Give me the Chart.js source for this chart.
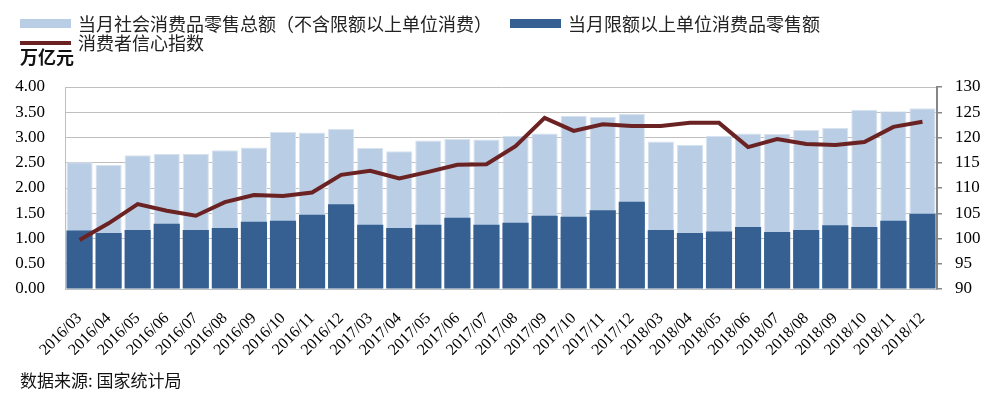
<!DOCTYPE html>
<html>
  <head>
    <meta charset="utf-8" />
    <title>社会消费品零售额与消费者信心指数</title>
    <script src="https://cdn.jsdelivr.net/npm/chart.js"></script>
    <style>
      body { margin: 0; background: #fff; }
      #wrap { position: relative; width: 1006px; height: 398px; }
      #retail-chart { position: absolute; left: 0; top: 0; }
      #legend {
        position: absolute; left: 20px; top: 14px; width: 830px;
        display: flex; flex-wrap: wrap; column-gap: 18px;
        font: 18px "Noto Sans CJK SC", sans-serif; color: #222; line-height: 19px;
      }
      .item { display: flex; align-items: center; white-space: nowrap; }
      .swatch { width: 51px; margin-right: 7px; }
      #unit {
        position: absolute; left: 20px; top: 46px;
        font: bold 18px "Noto Sans CJK SC", sans-serif; color: #111; line-height: 20px;
      }
      #source {
        position: absolute; left: 20px; top: 370px;
        font: 17px "Noto Sans CJK SC", sans-serif; color: #111; line-height: 20px;
      }
    </style>
  </head>
  <body>
    <div id="wrap">
      <canvas id="retail-chart" width="1006" height="398"></canvas>
      <div id="legend"></div>
      <div id="unit">万亿元</div>
      <div id="source">数据来源: 国家统计局</div>
    </div>

    <script>
      const months = [
        "2016/03", "2016/04", "2016/05", "2016/06", "2016/07", "2016/08", "2016/09", "2016/10", "2016/11", "2016/12",
        "2017/03", "2017/04", "2017/05", "2017/06", "2017/07", "2017/08", "2017/09", "2017/10", "2017/11", "2017/12",
        "2018/03", "2018/04", "2018/05", "2018/06", "2018/07", "2018/08", "2018/09", "2018/10", "2018/11", "2018/12",
      ];

      // 万亿元
      const totalRetail = [
        2.51, 2.46, 2.65, 2.68, 2.68, 2.75, 2.80, 3.11, 3.10, 3.17,
        2.79, 2.73, 2.94, 2.97, 2.96, 3.03, 3.08, 3.43, 3.41, 3.47,
        2.92, 2.85, 3.03, 3.08, 3.07, 3.15, 3.19, 3.55, 3.52, 3.58,
      ];
      const aboveLimitRetail = [
        1.16, 1.11, 1.17, 1.29, 1.17, 1.21, 1.33, 1.35, 1.47, 1.68,
        1.27, 1.21, 1.27, 1.41, 1.27, 1.31, 1.45, 1.43, 1.56, 1.73,
        1.17, 1.11, 1.14, 1.23, 1.13, 1.17, 1.26, 1.23, 1.35, 1.49,
      ];
      const confidenceIndex = [
        99.7, 103.0, 106.8, 105.5, 104.5, 107.2, 108.6, 108.4, 109.1, 112.6,
        113.4, 111.9, 113.2, 114.6, 114.7, 118.3, 123.9, 121.3, 122.6, 122.3,
        122.3, 122.9, 122.9, 118.1, 119.7, 118.7, 118.5, 119.1, 122.1, 123.1,
      ];

      const leftTicks = [0, 0.5, 1, 1.5, 2, 2.5, 3, 3.5, 4];
      const rightTicks = [90, 95, 100, 105, 110, 115, 120, 125, 130];

      const serif = "'Liberation Serif', 'Times New Roman', serif";
      const gridGray = "#bfbfbf";

      const ctx = document.getElementById("retail-chart").getContext("2d");
      const chart = new Chart(ctx, {
        type: "bar",
        data: {
          labels: months,
          datasets: [
            {
              label: "当月社会消费品零售总额（不含限额以上单位消费）",
              data: totalRetail,
              backgroundColor: "#b9cde5",
              borderColor: "#d7e2ef",
              borderWidth: 1,
              grouped: false,
              barPercentage: 0.9,
              categoryPercentage: 1,
              yAxisID: "y",
              order: 3,
            },
            {
              label: "当月限额以上单位消费品零售额",
              data: aboveLimitRetail,
              backgroundColor: "#376092",
              grouped: false,
              barPercentage: 0.9,
              categoryPercentage: 1,
              yAxisID: "y",
              order: 2,
            },
            {
              type: "line",
              label: "消费者信心指数",
              data: confidenceIndex,
              borderColor: "#6b2222",
              backgroundColor: "#6b2222",
              borderWidth: 4,
              pointRadius: 0,
              tension: 0,
              yAxisID: "y1",
              order: 1,
            },
          ],
        },
        options: {
          responsive: false,
          animation: false,
          layout: { padding: { top: 87 } },
          plugins: {
            legend: { display: false },
            tooltip: { enabled: false },
          },
          scales: {
            x: {
              grid: { display: false },
              border: { color: gridGray },
              ticks: {
                autoSkip: false,
                minRotation: 45,
                maxRotation: 45,
                padding: 12,
                color: "#000",
                font: { family: serif, size: 16 },
              },
              afterFit: (axis) => { axis.height = 109; },
            },
            y: {
              position: "left",
              min: 0,
              max: 4,
              afterBuildTicks: (axis) => { axis.ticks = leftTicks.map((v) => ({ value: v })); },
              grid: { color: gridGray, drawTicks: false },
              border: { color: gridGray },
              ticks: {
                padding: 20,
                color: "#000",
                font: { family: serif, size: 17 },
                callback: (v) => v.toFixed(2),
              },
              afterFit: (axis) => { axis.width = 65; },
            },
            y1: {
              position: "right",
              min: 90,
              max: 130,
              afterBuildTicks: (axis) => { axis.ticks = rightTicks.map((v) => ({ value: v })); },
              grid: { drawOnChartArea: false, color: "#868686", tickLength: 5, lineWidth: 1.5 },
              border: { color: "#868686", width: 2 },
              ticks: {
                padding: 13,
                color: "#000",
                font: { family: serif, size: 17 },
              },
              afterFit: (axis) => { axis.width = 69; },
            },
          },
        },
      });

      // legend built from the chart's own datasets
      const legend = document.getElementById("legend");
      chart.data.datasets.forEach((ds) => {
        const item = document.createElement("div");
        item.className = "item";
        const sw = document.createElement("span");
        sw.className = "swatch";
        if (ds.type === "line") {
          sw.style.height = "4px";
          sw.style.background = ds.borderColor;
        } else {
          sw.style.height = "9px";
          sw.style.background = ds.backgroundColor;
        }
        const txt = document.createElement("span");
        txt.textContent = ds.label;
        item.appendChild(sw);
        item.appendChild(txt);
        legend.appendChild(item);
      });
    </script>
  </body>
</html>
